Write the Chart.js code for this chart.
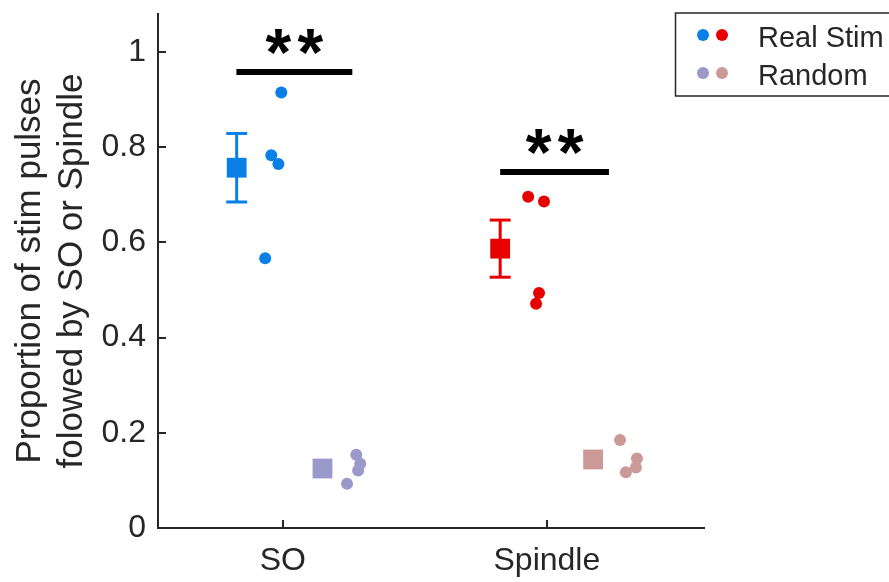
<!DOCTYPE html>
<html>
<head>
  <title>Stim pulses followed by SO or Spindle</title>
  <script src="https://cdn.jsdelivr.net/npm/chart.js"></script>
  <style>
    body { margin: 0; background: #fff; }
  </style>
</head>
<body>
  <canvas id="stimChart" width="889" height="582"></canvas>

  <script>
    const categories = ['SO', 'Spindle'];
    const yTicks = [0, 0.2, 0.4, 0.6, 0.8, 1];
    const legendLabels = ['Real Stim', 'Random'];

    // single subjects (x is jittered around the category)
    const soRealX = [0.994, 0.956, 0.983, 0.933];
    const soRealY = [0.915, 0.783, 0.765, 0.567];
    const spRealX = [1.929, 1.989, 1.970, 1.959];
    const spRealY = [0.696, 0.686, 0.494, 0.471];
    const soRandX = [1.278, 1.293, 1.285, 1.243];
    const soRandY = [0.154, 0.135, 0.121, 0.093];
    const spRandX = [2.277, 2.341, 2.337, 2.299];
    const spRandY = [0.185, 0.146, 0.127, 0.117];

    // group mean +- sem
    const realMeanX = [0.825, 1.823];
    const realMean = [0.757, 0.587];
    const realSem = [0.072, 0.060];
    const randMeanX = [1.15, 2.175];
    const randMean = [0.125, 0.144];

    // significance bars
    const sigStart = [0.824, 1.823];
    const sigEnd = [1.263, 2.235];
    const sigY = [0.958, 0.748];
    const sigText = ['**', '**'];

    const realColors = ['#0a7fe6', '#e60000'];
    const randColors = ['#9999cc', '#cc9999'];
    const axisColor = '#262626';
    const fontFamily = "'Liberation Sans', Arial, Helvetica, sans-serif";

    const pts = (xs, ys) => xs.map((x, i) => ({ x: x, y: ys[i] }));

    function dots(xs, ys, color) {
      return {
        data: pts(xs, ys), backgroundColor: color, borderWidth: 0,
        pointRadius: 6, pointStyle: 'circle', order: 0
      };
    }

    const datasets = [
      dots(soRealX, soRealY, realColors[0]),
      dots(spRealX, spRealY, realColors[1]),
      dots(soRandX, soRandY, randColors[0]),
      dots(spRandX, spRandY, randColors[1])
    ];

    // mean squares
    realMeanX.forEach((x, i) => {
      datasets.push({
        data: [{ x: x, y: realMean[i] }], backgroundColor: realColors[i], borderWidth: 0,
        pointStyle: 'rect', pointRadius: 14, order: 0
      });
      datasets.push({
        data: [{ x: randMeanX[i], y: randMean[i] }], backgroundColor: randColors[i], borderWidth: 0,
        pointStyle: 'rect', pointRadius: 14, order: 0
      });
      // error bar
      datasets.push({
        type: 'line',
        data: [{ x: x, y: realMean[i] - realSem[i] }, { x: x, y: realMean[i] + realSem[i] }],
        borderColor: realColors[i], borderWidth: 3,
        pointStyle: 'line', pointRadius: 10.5, pointBorderWidth: 3,
        pointBorderColor: realColors[i], order: 1
      });
      // significance bar
      datasets.push({
        type: 'line',
        data: [{ x: sigStart[i], y: sigY[i] }, { x: sigEnd[i], y: sigY[i] }],
        borderColor: '#000', borderWidth: 6, borderCapStyle: 'butt',
        pointRadius: 0, order: 1
      });
    });

    // inward tick marks, MATLAB style
    const innerTicks = {
      id: 'innerTicks',
      afterDraw(chart) {
        const { ctx, chartArea, scales } = chart;
        ctx.save();
        ctx.strokeStyle = axisColor;
        ctx.lineWidth = 2;
        ctx.beginPath();
        yTicks.forEach(v => {
          const py = Math.round(scales.y.getPixelForValue(v));
          ctx.moveTo(chartArea.left, py);
          ctx.lineTo(chartArea.left + 8, py);
        });
        categories.forEach((c, i) => {
          const px = Math.round(scales.x.getPixelForValue(i + 1));
          ctx.moveTo(px, chartArea.bottom);
          ctx.lineTo(px, chartArea.bottom - 8);
        });
        ctx.stroke();
        ctx.restore();
      }
    };

    const sigStars = {
      id: 'sigStars',
      afterDatasetsDraw(chart) {
        const { ctx, scales } = chart;
        ctx.save();
        ctx.fillStyle = '#000';
        ctx.font = 'bold 66px ' + fontFamily;
        ctx.textAlign = 'center';
        ctx.textBaseline = 'alphabetic';
        sigText.forEach((t, i) => {
          const px = scales.x.getPixelForValue((sigStart[i] + sigEnd[i]) / 2);
          const py = scales.y.getPixelForValue(sigY[i]);
          const chars = t.split('');
          chars.forEach((ch, k) => {
            const off = (k - (chars.length - 1) / 2) * 32;
            ctx.fillText(ch, px + off, py + 3);
          });
        });
        ctx.restore();
      }
    };

    const legendBox = {
      id: 'legendBox',
      afterDraw(chart) {
        const ctx = chart.ctx;
        const rows = [realColors, randColors];
        ctx.save();
        ctx.strokeStyle = axisColor;
        ctx.lineWidth = 1.5;
        ctx.strokeRect(675.5, 13, 240, 83);
        ctx.font = '29px ' + fontFamily;
        ctx.textBaseline = 'alphabetic';
        ctx.fillStyle = axisColor;
        legendLabels.forEach((label, r) => {
          const cy = 35 + r * 38;
          rows[r].forEach((col, k) => {
            ctx.beginPath();
            ctx.fillStyle = col;
            ctx.arc(703 + k * 19, cy, 6, 0, Math.PI * 2);
            ctx.fill();
          });
          ctx.fillStyle = axisColor;
          ctx.fillText(label, 758, cy + 12);
        });
        ctx.restore();
      }
    };

    new Chart(document.getElementById('stimChart'), {
      type: 'scatter',
      data: { datasets: datasets },
      options: {
        responsive: false,
        animation: false,
        layout: { padding: { left: 0, top: 10, right: 185, bottom: 0 } },
        plugins: {
          legend: { display: false },
          tooltip: { enabled: false }
        },
        scales: {
          x: {
            type: 'linear', min: 0.527, max: 2.595,
            afterBuildTicks: s => { s.ticks = categories.map((c, i) => ({ value: i + 1 })); },
            ticks: {
              callback: v => categories[v - 1] || '',
              color: axisColor, font: { size: 32, family: fontFamily },
              padding: 14, maxRotation: 0, autoSkip: false
            },
            grid: { display: false, drawTicks: false },
            border: { display: true, color: axisColor, width: 2 },
            afterFit: s => { s.height = 54; s.paddingLeft = 0; s.paddingRight = 0; }
          },
          y: {
            min: 0, max: 1.08,
            afterBuildTicks: s => { s.ticks = yTicks.map(v => ({ value: v })); },
            ticks: {
              callback: v => String(v),
              color: axisColor, font: { size: 32, family: fontFamily }, padding: 12
            },
            grid: { display: false, drawTicks: false },
            border: { display: true, color: axisColor, width: 2 },
            title: {
              display: true,
              text: ['Proportion of stim pulses', 'folowed by SO or Spindle'],
              color: axisColor, font: { size: 35, family: fontFamily },
              padding: { top: 9, bottom: 0 }
            },
            afterFit: s => { s.width = 158; s.paddingTop = 0; s.paddingBottom = 0; }
          }
        }
      },
      plugins: [innerTicks, sigStars, legendBox]
    });
  </script>
</body>
</html>
